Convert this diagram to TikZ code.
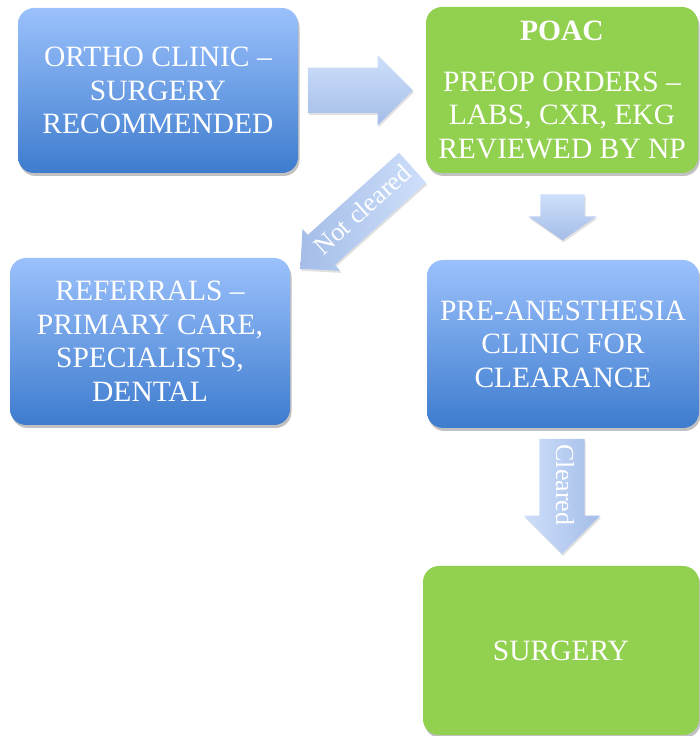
\documentclass[tikz,border=0pt]{standalone}
\usepackage{fontspec}
\setmainfont{Liberation Serif}
\usetikzlibrary{shapes.arrows,shadows,calc}

\definecolor{blueTop}{RGB}{155,193,252}
\definecolor{blueBot}{RGB}{62,124,206}
\definecolor{poacGreen}{RGB}{146,208,80}
\definecolor{arrowLight}{RGB}{206,223,250}
\definecolor{arrowDark}{RGB}{164,189,232}

\tikzset{
  boxshadow/.style={drop shadow={shadow xshift=1.5pt,shadow yshift=-3pt,opacity=.35,fill=black!70}},
  flowbox/.style={rounded corners=16pt, boxshadow, text=white, align=center,
    font=\fontsize{29.5}{33.5}\selectfont, inner sep=0pt},
  bluebox/.style={flowbox, top color=blueTop, bottom color=blueBot},
  greenbox/.style={flowbox, fill=poacGreen},
  bigarrow/.style={single arrow, draw=none, text=white, inner xsep=0pt,
    text height=0pt, text depth=0pt,
    drop shadow={shadow xshift=1pt,shadow yshift=-2pt,opacity=.2,fill=black!60}},
  arrowlabel/.style={font=\fontsize{26}{26}\selectfont, text height=17pt, text depth=5pt}
}

\begin{document}
\begin{tikzpicture}[x=1pt,y=1pt]
  \useasboundingbox (0,0) rectangle (699,736);

  % Boxes
  \node[bluebox, minimum width=280, minimum height=165] (ortho) at (158,645.5)
    {ORTHO CLINIC –\\SURGERY\\RECOMMENDED};
  \node[greenbox, minimum width=272, minimum height=166] (poac) at (562,646)
    {\textbf{POAC}\\[17pt]PREOP ORDERS –\\LABS, CXR, EKG\\REVIEWED BY NP};
  \node[bluebox, minimum width=280, minimum height=167] (referrals) at (150,394.5)
    {REFERRALS –\\PRIMARY CARE,\\SPECIALISTS,\\DENTAL};
  \node[bluebox, minimum width=272, minimum height=168] (preanes) at (563,392)
    {PRE-ANESTHESIA\\CLINIC FOR\\CLEARANCE};
  \node[greenbox, minimum width=276, minimum height=169] (surgery) at (561,85.5)
    {SURGERY};

  % Arrows between the boxes (shifted back: the shape's centre sits toward the tip)
  \node[bigarrow, top color=arrowLight, bottom color=arrowDark, inner ysep=22.5pt,
    minimum height=105, minimum width=70, single arrow head extend=12.5pt] (toPoac)
    at ($(ortho.east)!.5!(poac.west)+(-13,0)$) {};
  \node[bigarrow, shape border rotate=270, top color=arrowLight, bottom color=arrowDark,
    inner xsep=22pt, inner ysep=0pt, minimum height=46, minimum width=68,
    single arrow head extend=12pt, single arrow tip angle=110] (toClinic)
    at ($(poac.south)!.5!(preanes.north)+(0,7)$) {};
  \node[bigarrow, arrowlabel, rotate=42, shape border rotate=180,
    left color=arrowDark, right color=arrowLight, inner ysep=9pt,
    minimum height=151, minimum width=56, single arrow head extend=8pt] (notCleared)
    at ($(poac.south west)!.5!(referrals.north east)+(6,4)$) {Not cleared};
  \node[bigarrow, arrowlabel, rotate=-90, left color=arrowLight, right color=arrowDark,
    inner ysep=11.5pt, minimum height=115, minimum width=76,
    single arrow head extend=15.5pt] (cleared)
    at ($(preanes.south)!.5!(surgery.north)+(0,12)$) {Cleared};
\end{tikzpicture}
\end{document}
